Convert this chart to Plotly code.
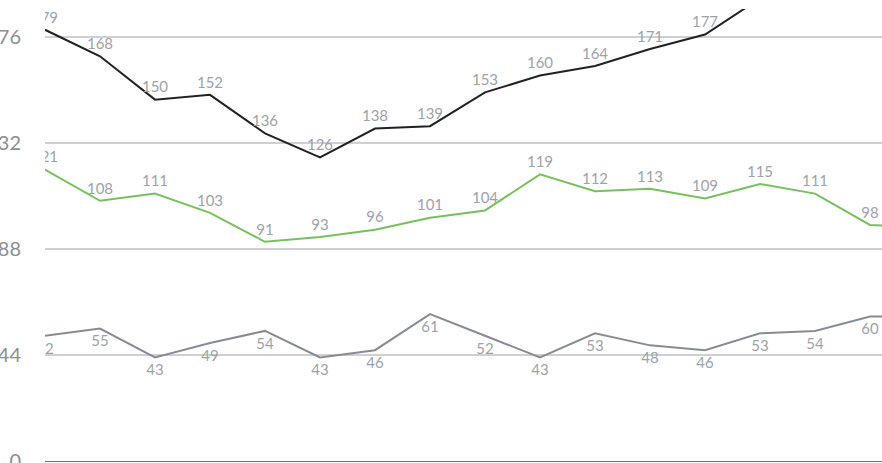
import plotly.graph_objects as go

# Sixteen periods are visible; the seventeenth only enters at the right edge.
periods = list(range(17))
series_black = [179, 168, 150, 152, 136, 126, 138, 139, 153, 160, 164, 171, 177, 192, 196, 201, 205]
series_green = [121, 108, 111, 103, 91, 93, 96, 101, 104, 119, 112, 113, 109, 115, 111, 98, 97]
series_gray = [52, 55, 43, 49, 54, 43, 46, 61, 52, 43, 53, 48, 46, 53, 54, 60, 60]
y_ticks = [0, 44, 88, 132, 176]

Y_MAX = 452 / (106 / 44)   # top of the visible value window
X_MAX = 837 / 55           # right edge of the visible period window

label_font = dict(family="Lato, 'Open Sans', sans-serif", size=15, color="#9ea2a8")

fig = go.Figure()


def add_line(values, color, pos, gap):
    # labels only for points that sit inside the visible window
    labels = [str(v) if (x <= 15 and v < Y_MAX) else "" for x, v in zip(periods, values)]
    fig.add_trace(go.Scatter(
        x=periods, y=values, mode="lines+markers+text",
        line=dict(color=color, width=2),
        marker=dict(size=gap, color="rgba(0,0,0,0)"),
        text=labels,
        textposition=pos,
        textfont=label_font,
        cliponaxis=True,
        hoverinfo="skip",
        showlegend=False,
    ))


add_line(series_gray, "#878c94", "bottom center", 9)
add_line(series_green, "#77c05e", "top center", 4)
add_line(series_black, "#222222", "top center", 4)

fig.update_layout(
    width=882, height=463,
    margin=dict(l=45, r=0, t=9, b=2, autoexpand=False),
    paper_bgcolor="white", plot_bgcolor="white",
    font=dict(family="Lato, 'Open Sans', sans-serif"),
    xaxis=dict(
        range=[0, X_MAX], showgrid=False, zeroline=False,
        showticklabels=False, ticks="", automargin=False,
        showline=True, linecolor="#6e7079", linewidth=1,
    ),
    yaxis=dict(
        range=[0, Y_MAX], tickvals=y_ticks,
        showgrid=True, gridcolor="#cdd0d4", gridwidth=2,
        zeroline=False, showline=False, ticks="", automargin=False,
        tickfont=dict(size=20, color="#8a8e96"),
        ticklabelstandoff=23,
        ticklabeloverflow="allow",
    ),
)

fig.write_html("out.html")
